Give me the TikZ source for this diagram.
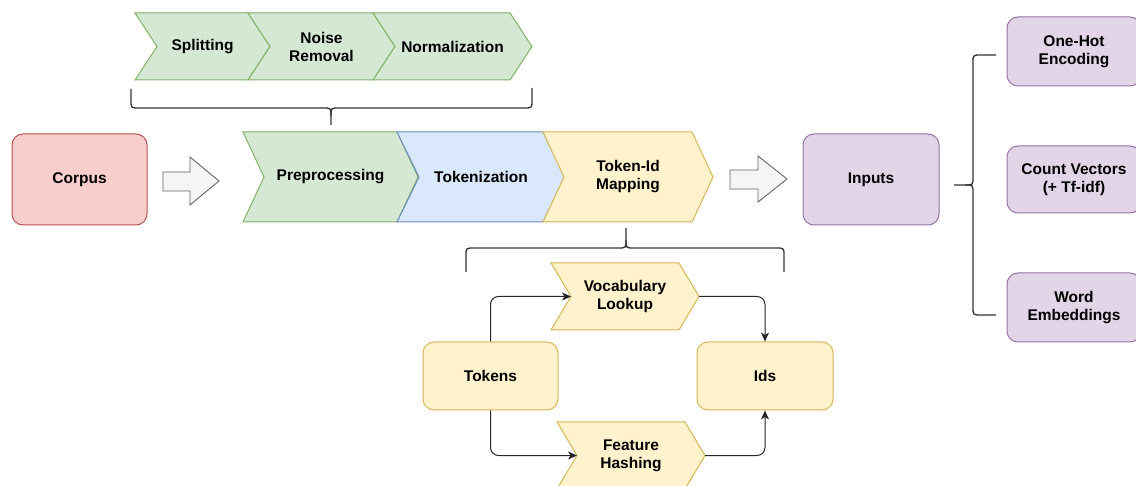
\documentclass[tikz,border=0pt]{standalone}
\usepackage{fontspec}
\setmainfont{Liberation Sans}
\usetikzlibrary{arrows.meta}
\definecolor{gfill}{HTML}{D5E8D4}\definecolor{gline}{HTML}{82B366}
\definecolor{bfill}{HTML}{DAE8FC}\definecolor{bline}{HTML}{6C8EBF}
\definecolor{yfill}{HTML}{FFF2CC}\definecolor{yline}{HTML}{D6B656}
\definecolor{rfill}{HTML}{F8CECC}\definecolor{rline}{HTML}{B85450}
\definecolor{pfill}{HTML}{E1D5E7}\definecolor{pline}{HTML}{9673A6}
\definecolor{afill}{HTML}{F5F5F5}\definecolor{aline}{HTML}{666666}
\tikzset{
  lbl/.style={font=\fontsize{15.5}{18}\selectfont\bfseries, align=center, text=black, inner sep=0pt},
  green/.style={draw=gline, fill=gfill, line width=1pt, line join=miter},
  blue/.style={draw=bline, fill=bfill, line width=1pt, line join=miter},
  yellow/.style={draw=yline, fill=yfill, line width=1pt, line join=miter},
  rbox/.style={lbl, draw=rline, fill=rfill, line width=1pt, rounded corners=11pt},
  pbox/.style={lbl, draw=pline, fill=pfill, line width=1pt, rounded corners=11pt},
  ybox/.style={lbl, draw=yline, fill=yfill, line width=1pt, rounded corners=11pt},
  bigarrow/.style={draw=aline, fill=afill, line width=0.9pt, line join=miter},
  brace/.style={draw=black!80, line width=1.3pt},
  conn/.style={draw=black!85, line width=1pt, rounded corners=8pt, -{Stealth[length=9pt,width=8pt,inset=2.5pt]}}
}
% #1 style, #2 name, #3 xl, #4 xr, #5 ytop, #6 ybot, #7 depth, #8 text
\newcommand{\mychev}[8]{%
  \draw[#1] (#3,#5) -- (#4,#5) -- ({#4+#7},{(#5+#6)/2}) -- (#4,#6) -- (#3,#6) -- ({#3+#7},{(#5+#6)/2}) -- cycle;
  \node[lbl] (#2) at ({(#3+#4)/2+#7/2},{(#5+#6)/2}) {#8};
  \coordinate (#2-in) at ({#3+#7},{(#5+#6)/2});
  \coordinate (#2-out) at ({#4+#7},{(#5+#6)/2});
}
\begin{document}
\begin{tikzpicture}[x=1pt,y=-1pt]
\useasboundingbox (0,0) rectangle (1136,486);
\fill[white] (0,0) rectangle (1136,486);
\clip (0,0) rectangle (1136,486);

% top chevrons
\mychev{green}{split}{135}{248}{13}{80}{22}{Splitting}
\mychev{green}{noise}{248}{373}{13}{80}{22}{Noise\\Removal}
\mychev{green}{norm}{373}{510}{13}{80}{22}{Normalization}

% top brace
\draw[brace] (131,89) -- (131,100) .. controls (131,108) .. (139,108) -- (323,108)
  .. controls (331,108) .. (331,116) -- (331,125);
\draw[brace] (331,116) .. controls (331,108) .. (339,108) -- (524,108)
  .. controls (532,108) .. (532,100) -- (532,88);

% main row
\node[rbox, minimum width=135pt, minimum height=91pt] (corpus) at (79.5,179.5) {Corpus};
\draw[bigarrow] (163,172) -- (190,172) -- (190,157) -- (219,181) -- (190,205) -- (190,191) -- (163,191) -- cycle;

\mychev{green}{prep}{243}{397}{132}{222}{21}{Preprocessing}
\mychev{blue}{tok}{397}{543}{132}{222}{22}{Tokenization}
\mychev{yellow}{map}{543}{692}{132}{222}{21}{Token-Id\\Mapping}

\draw[bigarrow] (730,170) -- (758,170) -- (758,156) -- (787,179) -- (758,202) -- (758,189) -- (730,189) -- cycle;
\node[pbox, minimum width=136pt, minimum height=91pt] (inputs) at (871,179.5) {Inputs};

% right brace
\draw[brace] (996,55) -- (981,55) .. controls (973,55) .. (973,63) -- (973,177)
  .. controls (973,185) .. (965,185) -- (954,185);
\draw[brace] (965,185) .. controls (973,185) .. (973,193) -- (973,307)
  .. controls (973,315) .. (981,315) -- (996,315);

\node[pbox, minimum width=134pt, minimum height=69pt] (onehot) at (1074,51.5) {One-Hot\\Encoding};
\node[pbox, minimum width=134pt, minimum height=67pt] (count) at (1074,179.5) {Count Vectors\\(+ Tf-idf)};
\node[pbox, minimum width=134pt, minimum height=69pt] (word) at (1074,307.5) {Word\\Embeddings};

% bottom brace
\draw[brace] (466,272) -- (466,256) .. controls (466,248) .. (474,248) -- (618,248)
  .. controls (626,248) .. (626,240) -- (626,228);
\draw[brace] (626,240) .. controls (626,248) .. (634,248) -- (776,248)
  .. controls (784,248) .. (784,256) -- (784,272);

% bottom sub-diagram
\mychev{yellow}{vocab}{551}{679}{263}{330}{20}{Vocabulary\\Lookup}
\mychev{yellow}{feat}{557}{685}{422}{489}{20}{Feature\\Hashing}
\node[ybox, minimum width=135pt, minimum height=68pt] (tokens) at (490.5,376) {Tokens};
\node[ybox, minimum width=136pt, minimum height=68pt] (ids) at (765,376) {Ids};

\draw[conn] (tokens.north) |- (vocab-in);
\draw[conn] (vocab-out) -| (ids.north);
\draw[conn] (tokens.south) |- (feat-in);
\draw[conn] (feat-out) -| (ids.south);
\end{tikzpicture}
\end{document}
